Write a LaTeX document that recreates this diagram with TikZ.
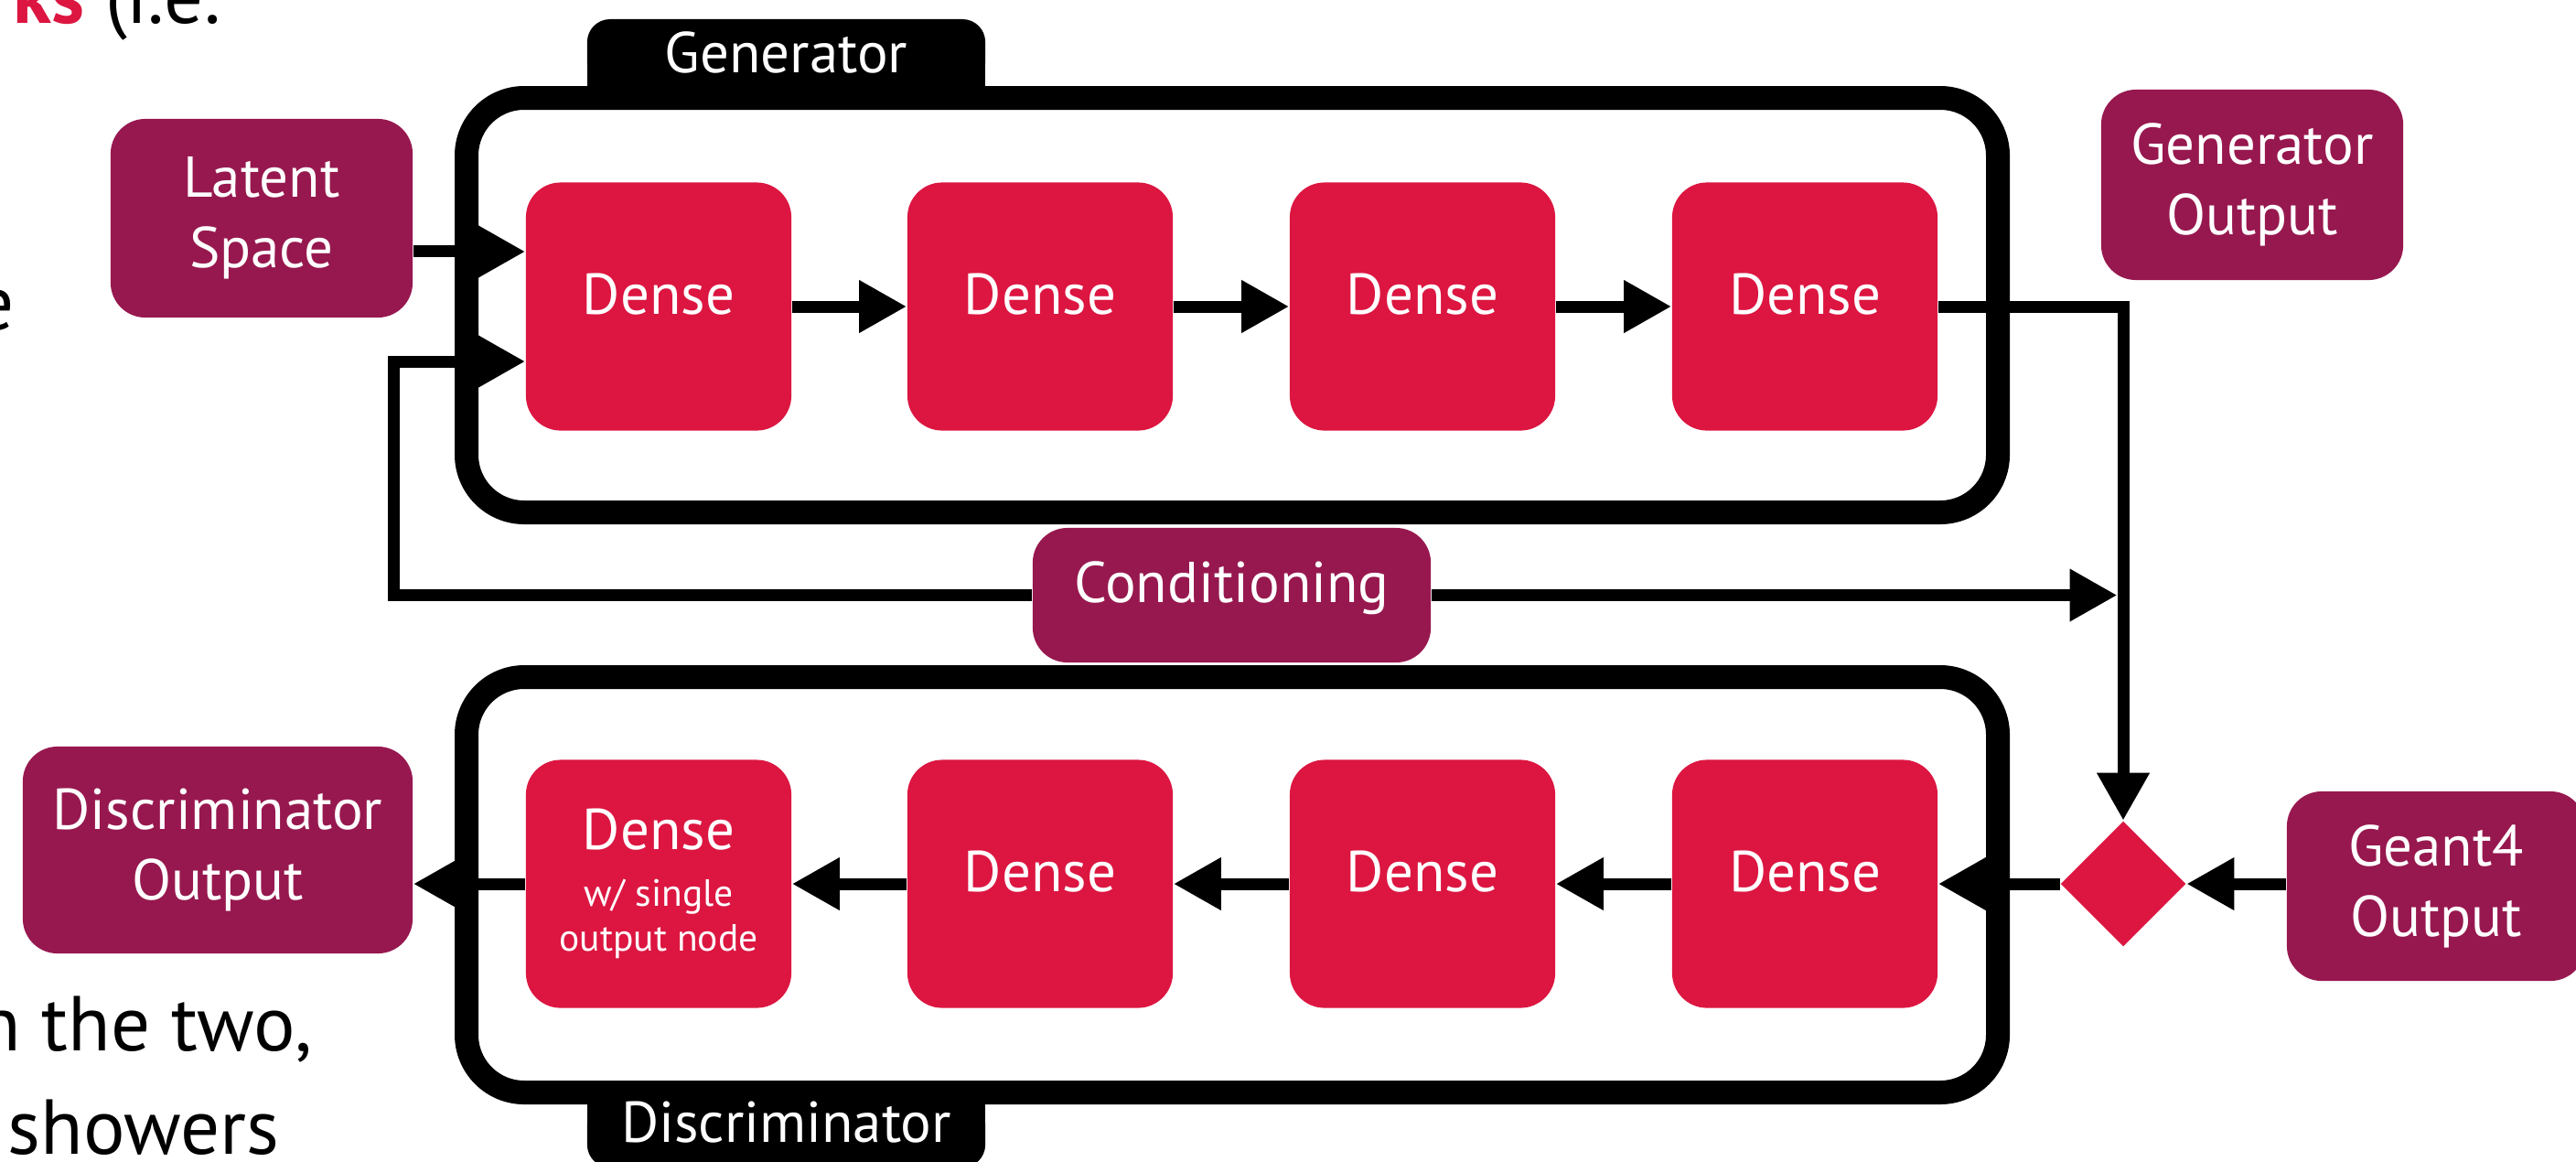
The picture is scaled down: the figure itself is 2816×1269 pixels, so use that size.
\documentclass[tikz,border=0pt]{standalone}
\usepackage{fontspec}
\setmainfont{PT Sans}
\usetikzlibrary{arrows.meta,shapes.geometric}
\definecolor{densered}{HTML}{DC1641}
\definecolor{ioplum}{HTML}{97184F}
\newcommand{\boxfont}{\fontsize{17.9}{21.9}\selectfont}
\newcommand{\notefont}{\fontsize{11.8}{14}\selectfont}
\newcommand{\slidefont}{\fontsize{24.2}{32}\selectfont}
\tikzset{
  layerbox/.style={fill=densered, text=white, rounded corners=0.38cm,
    minimum width=2.9cm, minimum height=2.71cm, inner sep=0pt, font=\boxfont},
  iobox/.style={fill=ioplum, text=white, rounded corners=0.38cm,
    inner sep=0pt, font=\boxfont},
  tabbox/.style={fill=black, text=white, rounded corners=0.25cm,
    minimum width=4.35cm, minimum height=0.72cm, inner sep=0pt, font=\boxfont},
  lifted/.style={text height=0.44cm, text depth=0.28cm},
  netframe/.style={line width=0.26cm, rounded corners=0.63cm},
  flow/.style={line width=0.13cm, -{Triangle[length=0.52cm,width=0.54cm]}},
  slidetext/.style={font=\slidefont, inner sep=0pt},
}
\begin{document}
\begin{tikzpicture}[x=0.01cm,y=-0.01cm]
\useasboundingbox (0,0) rectangle (2816,1269);
\clip (0,0) rectangle (2816,1269);

% slide text around the figure
\node[slidetext, anchor=base east] (ie) at (242,25) {\textbf{\color{densered}ks} (i.e.};
\node[slidetext, anchor=base east] (lefte) at (16,360) {e};
\node[slidetext, anchor=base east] (two) at (342,1148) {n the two,};
\node[slidetext, anchor=base west] (showers) at (8,1261) {showers};

% network frames with their tabs
\draw[netframe] (510,107) rectangle (2184,560);
\draw[netframe] (510,740) rectangle (2184,1194);
\fill (642,60) rectangle (1077,107);
\fill (642,1190) rectangle (1077,1240);
\node[tabbox] (gtab) at (859.5,57) {Generator};
\node[tabbox, lifted] (dtab) at (859.5,1240) {Discriminator};

% layers
\foreach \i/\x in {1/720,2/1137,3/1555,4/1973}
  \node[layerbox, lifted] (g\i) at (\x,335) {Dense};
\foreach \i/\x in {2/1137,3/1555,4/1973}
  \node[layerbox, lifted] (d\i) at (\x,966) {Dense};
\node[layerbox, align=center, font=\notefont] (d1) at (720,966)
  {{\boxfont Dense}\\[3.6pt]w/ single\\output node};

% inputs and outputs
\node[iobox, align=center, minimum width=3.3cm, minimum height=2.17cm] (latent) at (286,238.5) {Latent\\Space};
\node[iobox, align=center, minimum width=3.3cm, minimum height=2.08cm] (genout) at (2462,202) {Generator\\Output};
\node[iobox, lifted, minimum width=4.35cm, minimum height=1.47cm] (cond) at (1346.5,650.5) {Conditioning};
\node[iobox, align=center, minimum width=4.26cm, minimum height=2.26cm] (discout) at (238,929) {Discriminator\\Output};
\node[iobox, align=center, minimum width=3.26cm, minimum height=2.07cm] (geant) at (2663,968.5) {Geant4\\Output};
\node[diamond, fill=densered, minimum width=1.37cm, minimum height=1.37cm, inner sep=0pt] (mix) at (2321,966) {};

% connections
\coordinate (zin) at ([yshift=0.6cm]g1.west);
\coordinate (cin) at ([yshift=-0.6cm]g1.west);
\coordinate (cbend) at (430,650.5);
\coordinate (cjoin) at (2314.5,650.5);
\draw[flow] (latent.east |- zin) -- (zin);
\draw[flow] (cond.west) -- (cbend) |- (cin);
\draw[flow] (cond.east) -- (cjoin);
\foreach \a/\b in {1/2,2/3,3/4}
  \draw[flow] (g\a) -- (g\b);
\draw[flow] (g4.east) -| (mix.north);
\draw[flow] (geant.west |- mix) -- (mix.east);
\draw[flow] (mix.west) -- (d4.east);
\foreach \a/\b in {4/3,3/2,2/1}
  \draw[flow] (d\a) -- (d\b);
\draw[flow] (d1.west) -- (d1.west -| discout.east);
\end{tikzpicture}
\end{document}
